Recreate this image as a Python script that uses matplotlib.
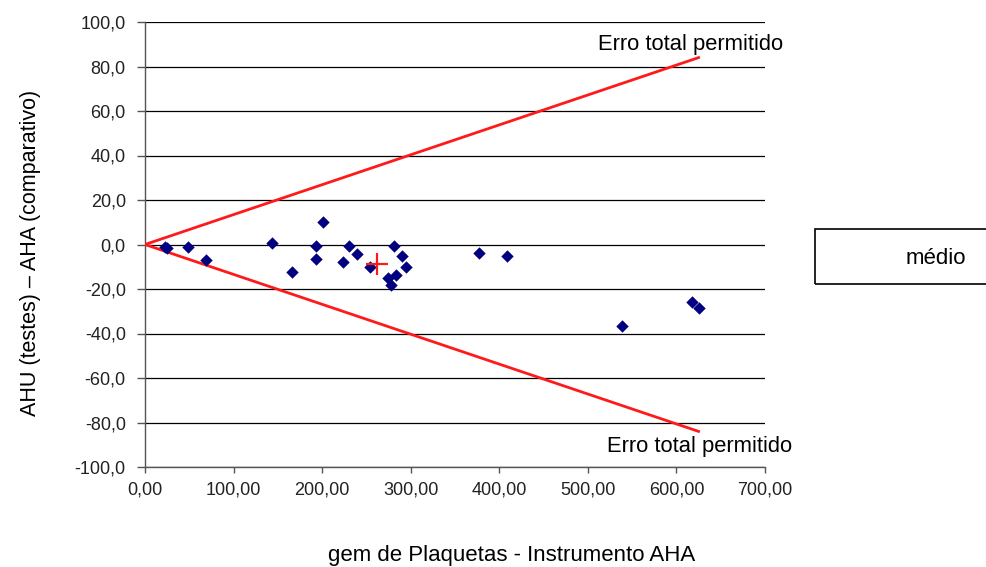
import numpy as np
import matplotlib.pyplot as plt
from matplotlib.patches import Rectangle
from matplotlib.ticker import FuncFormatter

plt.rcParams['font.family'] = ['Liberation Sans', 'DejaVu Sans']

# Plaquetas: valor AHA (x) e diferença AHU - AHA (y)
aha = np.array([22.6, 24.5, 48.9, 68.8, 143.8, 166.3, 193.1, 193.1, 200.6,
                223.2, 230.3, 239.7, 254.0, 281.1, 289.8, 294.3, 283.0,
                274.8, 277.4, 377.4, 409.1, 538.9, 617.2, 625.5])
diferenca = np.array([-1.0, -1.7, -1.0, -7.0, 0.8, -12.2, -0.7, -6.5, 10.0,
                      -8.0, -0.7, -4.3, -10.3, -0.7, -5.2, -10.3, -13.7,
                      -14.9, -18.4, -3.7, -5.2, -36.6, -25.8, -28.7])

# Limites do erro total permitido
limite_x = np.array([0.0, 625.0])
limite_sup = np.array([0.0, 84.0])
limite_inf = np.array([0.0, -84.0])

fig = plt.figure(figsize=(9.87, 5.67), dpi=100)
ax = fig.add_axes([145 / 987, 1 - 467 / 567, 620 / 987, 445 / 567])

ax.set_xlim(0, 700)
ax.set_ylim(-100, 100)
ax.set_xticks(np.arange(0, 701, 100))
ax.set_yticks(np.arange(-100, 101, 20))
ax.xaxis.set_major_formatter(FuncFormatter(lambda v, p: f"{v:.2f}".replace('.', ',')))
ax.yaxis.set_major_formatter(FuncFormatter(lambda v, p: f"{v:.1f}".replace('.', ',')))
ax.tick_params(axis='both', direction='out', width=1, color='#555555',
               labelsize=13, labelcolor='#222222')
ax.tick_params(axis='y', length=5.8, pad=8)
ax.tick_params(axis='x', length=4.5, pad=6)

for s in ['top', 'right']:
    ax.spines[s].set_visible(False)
for s in ['left', 'bottom']:
    ax.spines[s].set_color('#555555')
    ax.spines[s].set_linewidth(1)

ax.grid(axis='y', color='black', linewidth=0.9)
ax.set_axisbelow(True)

ax.plot(limite_x, limite_sup, color='#ff1a1a', linewidth=2, zorder=3)
ax.plot(limite_x, limite_inf, color='#ff1a1a', linewidth=2, zorder=3)

ax.scatter(aha, diferenca, marker='D', s=40, color='#000080', zorder=4, linewidths=0)
ax.plot(aha.mean(), diferenca.mean(), marker='+', color='#ff1a1a', markersize=16,
        markeredgewidth=1.6, zorder=5)

ax.text(511, 90.1, 'Erro total permitido', fontsize=15.8,
        ha='left', va='center', zorder=6)
ax.text(522, -90.6, 'Erro total permitido', fontsize=15.8,
        ha='left', va='center', zorder=6)

fig.text(31 / 987, 1 - 253 / 567, 'AHU (testes) – AHA (comparativo)', fontsize=15.5,
         rotation=90, ha='center', va='center')
fig.text(512 / 987, 1 - 555 / 567, 'gem de Plaquetas - Instrumento AHA',
         fontsize=16, ha='center', va='center')

# Caixa da legenda (cortada na borda direita)
fig.patches.append(Rectangle((815 / 987, 1 - 284 / 567), 200 / 987, 55 / 567,
                             transform=fig.transFigure, fill=False,
                             edgecolor='black', linewidth=1.2, clip_on=False))
fig.text(936 / 987, 1 - 259 / 567, 'médio', fontsize=16, ha='center', va='center')

fig.savefig('out.png', dpi=100)
